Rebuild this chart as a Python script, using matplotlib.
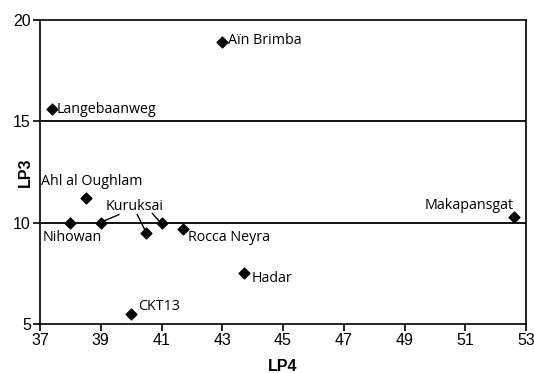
import matplotlib
matplotlib.use('Agg')
import matplotlib.pyplot as plt

# DATA
sites = ['Aïn Brimba', 'Langebaanweg', 'Ahl al Oughlam', 'Nihowan',
         'Kuruksai', 'Kuruksai', 'Kuruksai', 'Rocca Neyra', 'Hadar',
         'CKT13', 'Makapansgat']
lp4 = [43.0, 37.4, 38.5, 38.0, 39.0, 40.5, 41.0, 41.7, 43.7, 40.0, 52.6]
lp3 = [18.9, 15.6, 11.2, 10.0, 10.0, 9.5, 10.0, 9.7, 7.5, 5.5, 10.3]
xticks = [37, 39, 41, 43, 45, 47, 49, 51, 53]
yticks = [5, 10, 15, 20]
hlines = [10, 15]

lab_font = ['Open Sans', 'DejaVu Sans']
tick_font = 'Liberation Sans'

fig = plt.figure(figsize=(5.34, 3.73), dpi=100)
ax = fig.add_axes([40/534, 49/373, 486/534, 304/373])

ax.scatter(lp4, lp3, marker='D', s=30, color='black', zorder=3)
for h in hlines:
    ax.axhline(h, color='black', lw=1.3, zorder=1)

ax.set_xlim(37, 53)
ax.set_ylim(5, 20)
ax.set_xticks(xticks)
ax.set_yticks(yticks)
ax.tick_params(direction='out', length=5, width=1.2, labelsize=11.5, pad=1.5)
for lab in ax.get_xticklabels() + ax.get_yticklabels():
    lab.set_fontfamily(tick_font)
for sp in ax.spines.values():
    sp.set_linewidth(1.2)

ax.set_xlabel('LP4', fontsize=11.5, fontweight='bold', family=tick_font)
ax.xaxis.set_label_coords(0.5, -0.115)
ax.set_ylabel('LP3', fontsize=11.5, fontweight='bold', family=tick_font)
ax.yaxis.set_label_coords(-0.014, 0.5)

# labels (offsets in points)
kw = dict(fontsize=10.3, family=lab_font, textcoords='offset points', va='center')
ax.annotate(sites[0], (lp4[0], lp3[0]), xytext=(4, 1), ha='left', **kw)
ax.annotate(sites[1], (lp4[1], lp3[1]), xytext=(3.5, 0), ha='left', **kw)
ax.annotate(sites[2], (lp4[2], lp3[2]), xytext=(-32, 12), ha='left', **kw)
ax.annotate(sites[3], (lp4[3], lp3[3]), xytext=(-20, -11), ha='left', **kw)
ax.annotate(sites[7], (lp4[7], lp3[7]), xytext=(4, -6), ha='left', **kw)
ax.annotate(sites[8], (lp4[8], lp3[8]), xytext=(5.5, -4), ha='left', **kw)
ax.annotate(sites[9], (lp4[9], lp3[9]), xytext=(5, 5), ha='left', **kw)
ax.annotate(sites[10], (lp4[10], lp3[10]), xytext=(0, 8), ha='right', **kw)

# Kuruksai label with leader lines to its three points
kx, ky = 40.1, 10.82
ax.text(kx, ky, 'Kuruksai', fontsize=10.3, family=lab_font, ha='center', va='center')
ax.plot([39.6, 39.05], [10.4, 10.05], color='black', lw=1)
ax.plot([40.2, 40.45], [10.4, 9.65], color='black', lw=1)
ax.plot([40.7, 40.9], [10.45, 10.12], color='black', lw=1)

fig.savefig('out.png', dpi=100)
